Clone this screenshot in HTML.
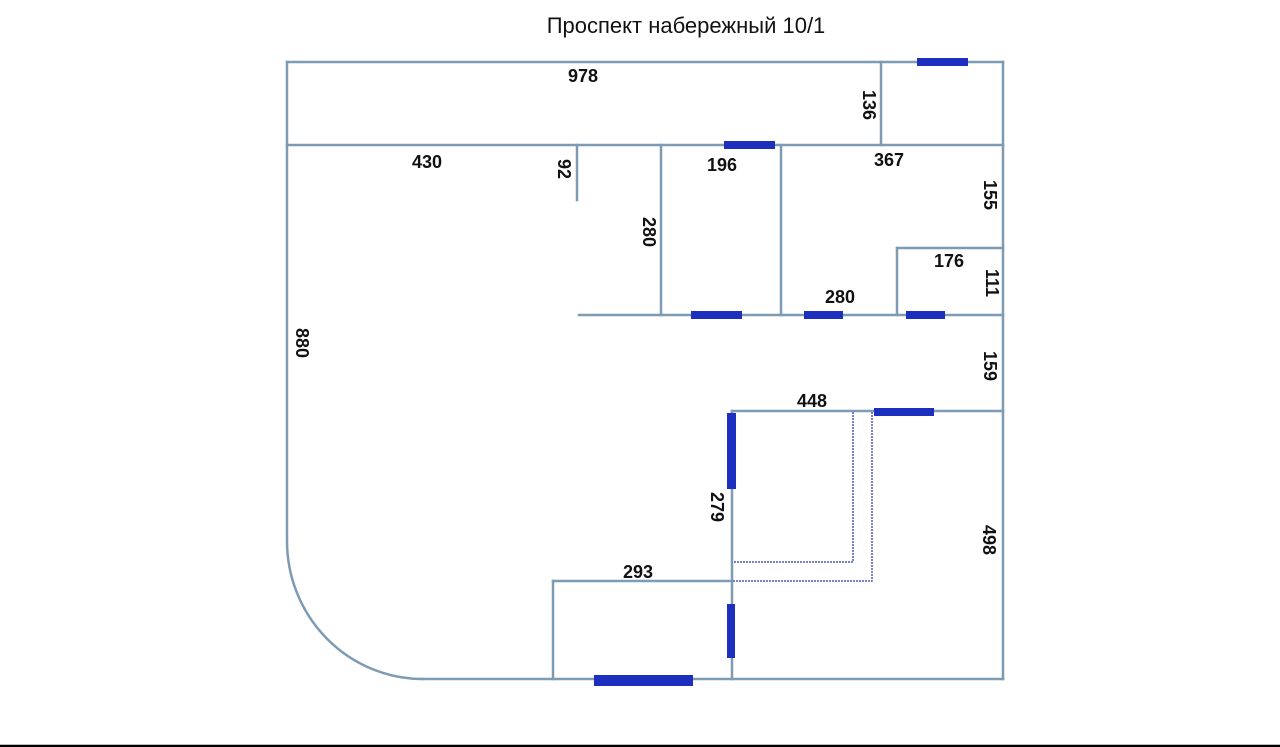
<!DOCTYPE html>
<html><head><meta charset="utf-8"><style>
html,body{margin:0;padding:0;background:#fff;}
svg{display:block;}
</style></head><body>
<svg width="1280" height="747" viewBox="0 0 1280 747" xmlns="http://www.w3.org/2000/svg">
<rect width="1280" height="747" fill="#fff"/>
<text x="686" y="33" font-family="Liberation Sans, Arial, sans-serif" font-size="22" text-anchor="middle" fill="#111">Проспект набережный 10/1</text>

<g stroke="#7d9bb3" stroke-width="2.5" fill="none" stroke-linecap="square">
  <line x1="287" y1="62" x2="1003" y2="62"/>
  <line x1="1003" y1="62" x2="1003" y2="679"/>
  <line x1="422" y1="679" x2="1003" y2="679"/>
  <path d="M287 62 L287 541 A136 138 0 0 0 422 679"/>
  <line x1="287" y1="145" x2="1003" y2="145"/>
  <line x1="881" y1="62" x2="881" y2="145"/>
  <line x1="577" y1="145" x2="577" y2="200"/>
  <line x1="661" y1="145" x2="661" y2="315"/>
  <line x1="781" y1="145" x2="781" y2="315"/>
  <line x1="579" y1="315" x2="1003" y2="315"/>
  <line x1="897" y1="248" x2="1003" y2="248"/>
  <line x1="897" y1="248" x2="897" y2="315"/>
  <line x1="732" y1="411" x2="1003" y2="411"/>
  <line x1="732" y1="411" x2="732" y2="679"/>
  <line x1="553" y1="581" x2="732" y2="581"/>
  <line x1="553" y1="581" x2="553" y2="679"/>
</g>

<g stroke="#4f58c0" stroke-width="1.5" fill="none" stroke-dasharray="2,1">
  <path d="M853 412 L853 562 L733 562"/>
  <path d="M872 412 L872 581 L733 581"/>
</g>

<g fill="#1c2fbf">
  <rect x="917" y="58" width="51" height="8"/>
  <rect x="724" y="141" width="51" height="8"/>
  <rect x="691" y="311" width="51" height="8"/>
  <rect x="804" y="311" width="39" height="8"/>
  <rect x="906" y="311" width="39" height="8"/>
  <rect x="874" y="408" width="60" height="8"/>
  <rect x="727" y="413" width="9" height="76"/>
  <rect x="727" y="604" width="8" height="54"/>
  <rect x="594" y="675" width="99" height="11"/>
</g>

<g font-family="Liberation Sans, Arial, sans-serif" font-size="18" font-weight="bold" fill="#111" text-anchor="middle">
  <text x="583" y="82">978</text>
  <text x="427" y="168">430</text>
  <text x="722" y="171">196</text>
  <text x="889" y="166">367</text>
  <text x="949" y="267">176</text>
  <text x="840" y="303">280</text>
  <text x="812" y="407">448</text>
  <text x="638" y="578">293</text>
  <g dominant-baseline="central">
    <text x="869" y="105" transform="rotate(90 869 105)">136</text>
    <text x="564" y="169" transform="rotate(90 564 169)">92</text>
    <text x="649" y="232" transform="rotate(90 649 232)">280</text>
    <text x="990" y="195" transform="rotate(90 990 195)">155</text>
    <text x="992" y="283" transform="rotate(90 992 283)">111</text>
    <text x="990" y="366" transform="rotate(90 990 366)">159</text>
    <text x="302" y="343" transform="rotate(90 302 343)">880</text>
    <text x="717" y="507" transform="rotate(90 717 507)">279</text>
    <text x="989" y="540" transform="rotate(90 989 540)">498</text>
  </g>
</g>

<rect x="0" y="744" width="1280" height="1" fill="#bbb"/>
<rect x="0" y="745" width="1280" height="2" fill="#000"/>
</svg>
</body></html>
